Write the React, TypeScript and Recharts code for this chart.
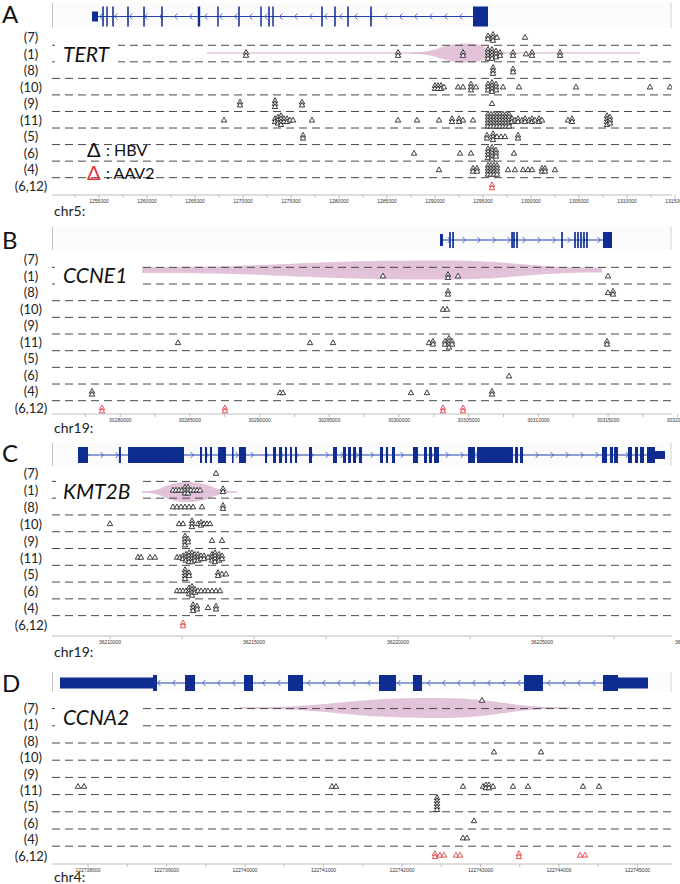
import React from "react";
import { ScatterChart, Scatter, XAxis, YAxis, ReferenceArea, ReferenceLine } from "recharts";

const FONT = "Lato, 'Open Sans', 'DejaVu Sans', sans-serif";
const ROW_LABELS = ["(7)", "(1)", "(8)", "(10)", "(9)", "(11)", "(5)", "(6)", "(4)", "(6,12)"];
const ROW_IDS = [0, 1, 2, 3, 4, 5, 6, 7, 8, 9];

// [row index, genomic position, stacked count]
type Hit = [number, number, number];
// [start, end, utr flag]
type Exon = [number, number, number];

// ---------- A: TERT (chr5) ----------
const ticksA = [1255000, 1260000, 1265000, 1270000, 1275000, 1280000, 1285000, 1290000, 1295000, 1300000, 1305000, 1310000, 1315000];
const exonsA: Exon[] = [
    [1254271, 1254896, 1], [1255340, 1255500, 0], [1255760, 1255910, 0], [1256380, 1256540, 0], [1257940, 1258100, 0],
    [1259610, 1259770, 0], [1261480, 1261640, 0], [1265290, 1265540, 0], [1267320, 1267470, 0], [1269500, 1269660, 0],
    [1271800, 1271950, 0], [1272630, 1272790, 0], [1273050, 1273200, 0], [1278150, 1278310, 0], [1279500, 1279660, 0],
    [1280860, 1281020, 0], [1283250, 1283410, 0], [1293958, 1295521, 0],
];
// line start, bulge start, peak, bulge end, line end
const lensA = [1266250, 1287604, 1293437, 1297292, 1311354];
const hbvA: Hit[] = [
    [0, 1295521, 2], [0, 1296042, 3], [0, 1296458, 1], [0, 1299375, 1],
    [1, 1270312, 2], [1, 1286146, 2], [1, 1292917, 2], [1, 1295521, 4], [1, 1295938, 4], [1, 1296354, 3], [1, 1296771, 2],
    [1, 1298125, 2], [1, 1299479, 1], [1, 1300104, 2], [1, 1303021, 2],
    [2, 1296042, 3], [2, 1298125, 2],
    [3, 1290000, 2], [3, 1290312, 2], [3, 1290625, 2], [3, 1290937, 1], [3, 1292396, 1], [3, 1292917, 1], [3, 1293750, 3],
    [3, 1294271, 1], [3, 1295521, 3], [3, 1295938, 4], [3, 1296354, 3], [3, 1297083, 1], [3, 1298750, 1], [3, 1304687, 1],
    [3, 1312396, 1], [3, 1314479, 1],
    [4, 1269687, 2], [4, 1273333, 3], [4, 1276146, 2], [4, 1295938, 1],
    [5, 1268021, 1], [5, 1273333, 2], [5, 1273646, 3], [5, 1273958, 4], [5, 1274271, 2], [5, 1274583, 2], [5, 1274896, 1],
    [5, 1275208, 1], [5, 1277187, 1], [5, 1286146, 1], [5, 1288125, 1], [5, 1290417, 1], [5, 1291771, 2], [5, 1292500, 2],
    [5, 1292917, 1], [5, 1293958, 1], [5, 1295521, 5], [5, 1295833, 5], [5, 1296146, 5], [5, 1296458, 5], [5, 1296771, 5],
    [5, 1297083, 5], [5, 1297396, 5], [5, 1297708, 5], [5, 1298021, 2], [5, 1298333, 1], [5, 1298646, 2], [5, 1299062, 1],
    [5, 1299375, 2], [5, 1299792, 1], [5, 1300104, 2], [5, 1300417, 1], [5, 1300833, 2], [5, 1301146, 1], [5, 1303854, 1],
    [5, 1304271, 2], [5, 1307917, 4], [5, 1308229, 3],
    [6, 1276250, 2], [6, 1295417, 2], [6, 1296042, 3], [6, 1296458, 1], [6, 1296875, 1], [6, 1297292, 1], [6, 1298646, 2],
    [7, 1287812, 1], [7, 1292604, 1], [7, 1293750, 1], [7, 1295521, 4], [7, 1295938, 5], [7, 1296354, 3], [7, 1298229, 1],
    [8, 1290417, 1], [8, 1293958, 2], [8, 1294375, 2], [8, 1295521, 4], [8, 1295833, 4], [8, 1296146, 4], [8, 1296458, 4],
    [8, 1297604, 1], [8, 1298333, 1], [8, 1299167, 1], [8, 1299687, 1], [8, 1300104, 1], [8, 1301146, 2], [8, 1301458, 2],
    [8, 1302500, 1],
];
const aavA: Hit[] = [[9, 1295938, 2]];

// ---------- B: CCNE1 (chr19) ----------
const ticksB = [30280000, 30285000, 30290000, 30295000, 30300000, 30305000, 30310000, 30315000, 30320000];
const exonsB: Exon[] = [
    [30302941, 30303157, 1], [30303600, 30303720, 0], [30303815, 30303935, 0], [30308050, 30308170, 0], [30308190, 30308310, 0],
    [30308405, 30308525, 0], [30311635, 30311755, 0], [30312565, 30312685, 0], [30312780, 30312900, 0], [30312995, 30313115, 0],
    [30313210, 30313330, 0], [30313425, 30313545, 0], [30314634, 30315280, 0],
];
const lensB = [30281563, 30281563, 30302941, 30314563, 30314563];
const hbvB: Hit[] = [
    [1, 30298852, 1], [1, 30303515, 2], [1, 30304233, 1], [1, 30314994, 1],
    [2, 30303515, 2], [2, 30314994, 1], [2, 30315352, 2],
    [3, 30303157, 1], [3, 30303443, 1],
    [5, 30284146, 1], [5, 30293615, 1], [5, 30295265, 1], [5, 30302152, 1], [5, 30302439, 2], [5, 30303300, 2],
    [5, 30303587, 4], [5, 30303802, 2], [5, 30314922, 2],
    [7, 30307891, 1],
    [8, 30277976, 2], [8, 30291463, 1], [8, 30291678, 1], [8, 30300861, 1], [8, 30302009, 1], [8, 30306672, 2],
];
const aavB: Hit[] = [[9, 30278694, 2], [9, 30287517, 2], [9, 30303157, 2], [9, 30304591, 2]];

// ---------- C: KMT2B (chr19) ----------
const ticksC = [36210000, 36215000, 36220000, 36225000, 36230000];
const exonsC: Exon[] = [
    [36208889, 36209236, 0], [36210310, 36210380, 0], [36210625, 36212569, 0], [36213125, 36213194, 0], [36213299, 36213368, 0],
    [36213472, 36213541, 0], [36213750, 36214028, 0], [36214236, 36214290, 0], [36214479, 36214722, 0], [36215382, 36215451, 0],
    [36215660, 36215764, 0], [36215868, 36215972, 0], [36216076, 36216146, 0], [36216250, 36216319, 0], [36216424, 36216493, 0],
    [36216910, 36217014, 0], [36217743, 36217882, 0], [36218090, 36218194, 0], [36218264, 36218368, 0], [36218437, 36218541, 0],
    [36218645, 36218750, 0], [36219375, 36219479, 0], [36219583, 36219653, 0], [36219791, 36219895, 0], [36220520, 36220694, 0],
    [36220902, 36221006, 0], [36221076, 36221180, 0], [36221250, 36221423, 0], [36222430, 36222673, 0], [36222743, 36223993, 0],
    [36224062, 36224166, 0], [36224236, 36224340, 0], [36227082, 36227257, 0], [36227360, 36227465, 0], [36227499, 36227638, 0],
    [36227985, 36228124, 0], [36228228, 36228332, 0], [36228402, 36228541, 0], [36228645, 36228923, 0], [36228923, 36229270, 1],
];
const lensC = [36211111, 36211111, 36212674, 36214410, 36214410];
const hbvC: Hit[] = [
    [0, 36213680, 1],
    [1, 36212187, 1], [1, 36212292, 1], [1, 36212396, 1], [1, 36212500, 1], [1, 36212604, 3], [1, 36212708, 3],
    [1, 36212812, 1], [1, 36212917, 1], [1, 36213021, 1], [1, 36213125, 1], [1, 36213923, 2],
    [2, 36212187, 1], [2, 36212326, 1], [2, 36212465, 1], [2, 36212604, 1], [2, 36212743, 1], [2, 36212882, 1],
    [2, 36213194, 1], [2, 36213923, 2],
    [3, 36210000, 1], [3, 36212396, 1], [3, 36212535, 1], [3, 36212847, 3], [3, 36213055, 1], [3, 36213160, 2],
    [3, 36213264, 1], [3, 36213368, 1], [3, 36213472, 1],
    [4, 36212604, 4], [4, 36212708, 2], [4, 36213541, 1], [4, 36213889, 1],
    [5, 36210972, 1], [5, 36211076, 1], [5, 36211389, 1], [5, 36211562, 1], [5, 36212326, 1], [5, 36212430, 1],
    [5, 36212535, 2], [5, 36212639, 3], [5, 36212743, 4], [5, 36212847, 4], [5, 36212951, 3], [5, 36213055, 3],
    [5, 36213160, 2], [5, 36213264, 2], [5, 36213403, 1], [5, 36213541, 3], [5, 36213646, 4], [5, 36213785, 3],
    [5, 36213889, 2],
    [6, 36212604, 4], [6, 36212743, 2], [6, 36213750, 2], [6, 36213889, 1], [6, 36214028, 1],
    [7, 36212326, 1], [7, 36212430, 1], [7, 36212535, 1], [7, 36212639, 1], [7, 36212743, 3], [7, 36212847, 4],
    [7, 36212951, 2], [7, 36213055, 1], [7, 36213160, 1], [7, 36213298, 1], [7, 36213403, 1], [7, 36213541, 1],
    [7, 36213680, 1], [7, 36213819, 1],
    [8, 36212882, 3], [8, 36213021, 2], [8, 36213403, 1], [8, 36213680, 2],
];
const aavC: Hit[] = [[9, 36212535, 2]];

// ---------- D: CCNA2 (chr4) ----------
const ticksD = [122738000, 122739000, 122740000, 122741000, 122742000, 122743000, 122744000, 122745000];
const exonsD: Exon[] = [
    [122737643, 122738828, 1], [122738828, 122738879, 0], [122739236, 122739363, 0], [122739987, 122740102, 0],
    [122740548, 122740739, 0], [122741707, 122741924, 0], [122742140, 122742255, 0], [122743554, 122743796, 0],
    [122744561, 122744752, 0], [122744752, 122745134, 1],
];
const lensD = [122739936, 122739936, 122742420, 122744140, 122744140];
const hbvD: Hit[] = [
    [0, 122743019, 1],
    [3, 122743172, 1], [3, 122743771, 1],
    [5, 122737872, 1], [5, 122737949, 1], [5, 122741108, 1], [5, 122741159, 1], [5, 122742777, 1], [5, 122743032, 1],
    [5, 122743070, 2], [5, 122743108, 2], [5, 122743159, 1], [5, 122743414, 1], [5, 122743605, 1], [5, 122744306, 1],
    [5, 122744510, 1],
    [6, 122742446, 5],
    [7, 122742917, 1],
    [8, 122742777, 1], [8, 122742828, 1],
];
const aavD: Hit[] = [
    [9, 122742420, 2], [9, 122742484, 1], [9, 122742535, 1], [9, 122742688, 1], [9, 122742739, 1],
    [9, 122743490, 2], [9, 122744268, 1], [9, 122744331, 1],
];

interface Layout {
    top: number; axisY: number; r0: number; step: number; geneY: number;
    box: [number, number]; tallH: number; utrH: number;
    labelTop: number; labelStep: number;
    name: [number, number, number, number]; nameY: number;
    letterY: number; chrY: number;
    lens: [number, number, number, number]; // center y, peak half height, left half, right half
}

interface PanelProps {
    letter: string; gene: string; chr: string; strand: number;
    domain: [number, number]; ticks: number[]; exons: Exon[]; lens: number[];
    hbv: Hit[]; aav: Hit[]; lay: Layout; legend?: boolean;
}

const stackShape = (color: string) => (props: any) => {
    const { cx, cy, payload } = props;
    const n = payload.n;
    const tris = [];
    for (let i = 0; i < n; i++) {
        const oy = cy + (i - (n - 1) / 2) * 3;
        tris.push(
            <path key={i} d={`M${cx - 2.7},${oy + 2.3} L${cx},${oy - 2.5} L${cx + 2.7},${oy + 2.3} Z`}
                fill="#fff" stroke={color} strokeWidth={0.85} />
        );
    }
    return <g>{tris}</g>;
};

function Panel({ letter, gene, chr, strand, domain, ticks, exons, lens, hbv, aav, lay, legend }: PanelProps) {
    const toRow = (py: number) => (py - lay.r0) / lay.step;
    const height = lay.axisY - lay.top + 16;
    const half = (ticks[1] - ticks[0]) / 2;
    const allTicks: number[] = [];
    if (ticks[0] - half > domain[0]) allTicks.push(ticks[0] - half);
    ticks.forEach((t, i) => {
        allTicks.push(t);
        if (i < ticks.length - 1) allTicks.push(t + half);
    });
    const geneStart = exons[0][0];
    const geneEnd = exons[exons.length - 1][1];
    const [lcy, lhm, lh0, lh1] = lay.lens;

    const intronShape = (r: any) => {
        const cy = r.y + r.height / 2;
        const marks: string[] = [];
        for (let x = r.x + 9; x < r.x + r.width - 4; x += 15) {
            marks.push(strand > 0
                ? `M${x - 1.3},${cy - 3} L${x + 1.3},${cy} L${x - 1.3},${cy + 3}`
                : `M${x + 1.3},${cy - 3} L${x - 1.3},${cy} L${x + 1.3},${cy + 3}`);
        }
        return (
            <g>
                <line x1={r.x} x2={r.x + r.width} y1={cy} y2={cy} stroke="#2340b0" strokeWidth={1.2} />
                <path d={marks.join(" ")} fill="none" stroke="#3e5cc8" strokeWidth={0.9} />
            </g>
        );
    };

    const lensShape = (r: any) => {
        const [l0, b0, pk, b1, l1] = lens;
        const px = (g: number) => r.x + ((g - l0) / (l1 - l0)) * r.width;
        const cy = r.y + r.height / 2;
        const x0 = px(b0), xp = px(pk), x1 = px(b1);
        const a = (xp - x0) / 2, b = (x1 - xp) / 2;
        const d = `M${x0},${cy - lh0} C${x0 + a},${cy - lh0} ${xp - a},${cy - lhm} ${xp},${cy - lhm} ` +
            `C${xp + b},${cy - lhm} ${x1 - b},${cy - lh1} ${x1},${cy - lh1} L${x1},${cy + lh1} ` +
            `C${x1 - b},${cy + lh1} ${xp + b},${cy + lhm} ${xp},${cy + lhm} ` +
            `C${xp - a},${cy + lhm} ${x0 + a},${cy + lh0} ${x0},${cy + lh0} Z`;
        return (
            <g>
                <line x1={r.x} x2={r.x + r.width} y1={cy} y2={cy} stroke="#e4c6dc" strokeWidth={1.3} />
                <path d={d} fill="#dfbdd5" fillOpacity={0.9} />
            </g>
        );
    };

    const boxShape = (r: any) => (
        <g>
            <rect x={r.x} y={r.y} width={r.width} height={r.height} fill="#fbfbfb" />
            <line x1={r.x + 0.5} x2={r.x + 0.5} y1={r.y} y2={r.y + r.height} stroke="#c4c4c4" />
            <line x1={r.x + r.width - 1} x2={r.x + r.width - 1} y1={r.y} y2={r.y + r.height} stroke="#d4d4d4" />
        </g>
    );

    const exonShape = (r: any) => (
        <rect x={r.x} y={r.y} width={Math.max(r.width, 1.4)} height={r.height} fill="#0f2d91" />
    );

    return (
        <>
            <div style={{ position: "absolute", left: 0, top: lay.top }}>
                <ScatterChart width={680} height={height} margin={{ top: 0, right: 8, bottom: 0, left: 0 }}>
                    <XAxis type="number" dataKey="x" domain={domain} allowDataOverflow ticks={allTicks} interval={0}
                        height={16} tickSize={3} tickMargin={1}
                        axisLine={{ stroke: "#bdbdbd" }} tickLine={{ stroke: "#bdbdbd" }}
                        tick={(t: any) => ticks.includes(t.payload.value)
                            ? <text x={t.x} y={t.y} dy="0.75em" fontSize={5} textAnchor="middle" fill="#333" fontFamily="'Liberation Sans', Arial">{t.payload.value}</text>
                            : <g />} />
                    <YAxis type="number" dataKey="y" domain={[toRow(lay.top), toRow(lay.axisY)]} reversed allowDataOverflow
                        width={52} ticks={ROW_IDS} interval={0} axisLine={false} tickLine={false}
                        tick={(t: any) => {
                            const i = t.payload.value;
                            const y = t.y + (lay.labelTop - lay.r0) + i * (lay.labelStep - lay.step);
                            return <text x={31} y={y} textAnchor="middle" dominantBaseline="central" fontSize={13}
                                fontFamily={FONT} fill="#222">{ROW_LABELS[i]}</text>;
                        }} />

                    <ReferenceArea x1={domain[0]} x2={domain[1]} y1={toRow(lay.box[0])} y2={toRow(lay.box[1])}
                        shape={boxShape} ifOverflow="hidden" />
                    <ReferenceArea x1={lens[0]} x2={lens[4]} y1={toRow(lcy - lhm)} y2={toRow(lcy + lhm)}
                        shape={lensShape} ifOverflow="hidden" />
                    <ReferenceArea x1={geneStart} x2={geneEnd} y1={toRow(lay.geneY - 3)} y2={toRow(lay.geneY + 3)}
                        shape={intronShape} ifOverflow="hidden" />
                    {exons.map(([s, e, utr], i) => {
                        const h = utr ? lay.utrH : lay.tallH;
                        return <ReferenceArea key={`ex${i}`} x1={s} x2={e} y1={toRow(lay.geneY - h)} y2={toRow(lay.geneY + h)}
                            shape={exonShape} ifOverflow="hidden" />;
                    })}
                    {ROW_IDS.slice(0, 9).map((i) => (
                        <ReferenceLine key={`rl${i}`} y={i + 0.5} stroke="#484848" strokeDasharray="8 5" ifOverflow="hidden" />
                    ))}

                    <Scatter data={hbv.map(([row, pos, n]) => ({ x: pos, y: row, n }))}
                        shape={stackShape("#1e1e1e")} isAnimationActive={false} />
                    <Scatter data={aav.map(([row, pos, n]) => ({ x: pos, y: row, n }))}
                        shape={stackShape("#e5333b")} isAnimationActive={false} />
                </ScatterChart>
            </div>

            <div style={{ position: "absolute", left: lay.name[0], top: lay.name[1], width: lay.name[2], height: lay.name[3], background: "#fff" }} />
            <div style={{ position: "absolute", left: 63, top: lay.nameY, transform: "translateY(-50%)", fontSize: 21, fontStyle: "italic", fontFamily: FONT, lineHeight: 1, color: "#111" }}>{gene}</div>
            <div style={{ position: "absolute", left: 2, top: lay.letterY, transform: "translateY(-50%)", fontSize: 24, fontFamily: FONT, lineHeight: 1, color: "#111" }}>{letter}</div>
            <div style={{ position: "absolute", left: 54, top: lay.chrY, transform: "translateY(-50%)", fontSize: 14, fontFamily: FONT, lineHeight: 1, color: "#222" }}>{chr}</div>

            {legend && (
                <>
                    <div style={{ position: "absolute", left: 87, top: 149, transform: "translateY(-50%)", fontSize: 20, fontFamily: FONT, lineHeight: 0.9, color: "#111" }}>Δ</div>
                    <div style={{ position: "absolute", left: 106, top: 150, transform: "translateY(-50%)", fontSize: 16, fontFamily: FONT, lineHeight: 1, color: "#111" }}>: HBV</div>
                    <div style={{ position: "absolute", left: 87, top: 172, transform: "translateY(-50%)", fontSize: 20, fontFamily: FONT, lineHeight: 0.9, color: "#e5333b" }}>Δ</div>
                    <div style={{ position: "absolute", left: 106, top: 173, transform: "translateY(-50%)", fontSize: 16, fontFamily: FONT, lineHeight: 1, color: "#111" }}>: AAV2</div>
                </>
            )}
        </>
    );
}

const layA: Layout = {
    top: 2, axisY: 195, r0: 37, step: 16.55, geneY: 16.5, box: [3, 28], tallH: 10, utrH: 5,
    labelTop: 37, labelStep: 16.55, name: [55, 41, 63, 24], nameY: 53, letterY: 14, chrY: 211,
    lens: [53, 9.5, 0.7, 0.7],
};
const layB: Layout = {
    top: 225, axisY: 414, r0: 259, step: 16.67, geneY: 240, box: [227, 250], tallH: 8, utrH: 6,
    labelTop: 259, labelStep: 16.55, name: [55, 262, 87, 25], nameY: 274, letterY: 240, chrY: 428,
    lens: [270, 9.5, 3, 2.5],
};
const layC: Layout = {
    top: 442, axisY: 636, r0: 473, step: 16.78, geneY: 455, box: [443, 466], tallH: 8, utrH: 4,
    labelTop: 473, labelStep: 16.9, name: [56, 477, 84, 25], nameY: 490, letterY: 453, chrY: 652,
    lens: [492, 10, 0.5, 0.5],
};
const layD: Layout = {
    top: 671, axisY: 864, r0: 700, step: 17.2, geneY: 683, box: [672, 692], tallH: 8, utrH: 5.5,
    labelTop: 708, labelStep: 16.4, name: [55, 703, 87, 27], nameY: 716, letterY: 683, chrY: 877,
    lens: [708, 10, 0.5, 0.5],
};

export default function App() {
    return (
        <div style={{ position: "absolute", left: 0, top: 0, width: 680, height: 884, background: "#fff", overflow: "hidden" }}>
            <Panel letter="A" gene="TERT" chr="chr5:" strand={-1} domain={[1250104, 1314687]} ticks={ticksA}
                exons={exonsA} lens={lensA} hbv={hbvA} aav={aavA} lay={layA} legend />
            <Panel letter="B" gene="CCNE1" chr="chr19:" strand={1} domain={[30275106, 30319585]} ticks={ticksB}
                exons={exonsB} lens={lensB} hbv={hbvB} aav={aavB} lay={layB} />
            <Panel letter="C" gene="KMT2B" chr="chr19:" strand={1} domain={[36207986, 36229513]} ticks={ticksC}
                exons={exonsC} lens={lensC} hbv={hbvC} aav={aavC} lay={layC} />
            <Panel letter="D" gene="CCNA2" chr="chr4:" strand={-1} domain={[122737541, 122745440]} ticks={ticksD}
                exons={exonsD} lens={lensD} hbv={hbvD} aav={aavD} lay={layD} />
        </div>
    );
}
